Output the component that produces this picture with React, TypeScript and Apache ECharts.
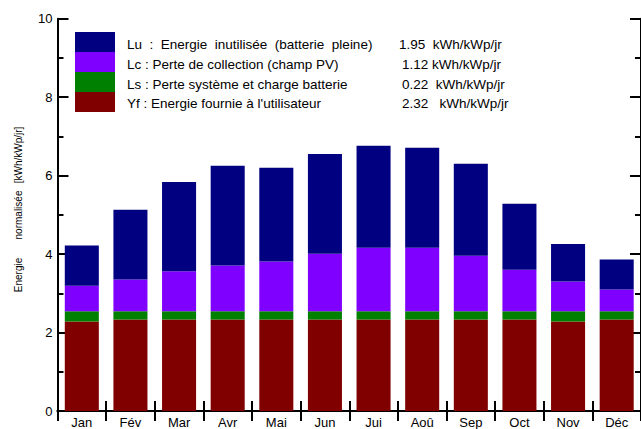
import React, { useEffect, useRef } from "react";
import * as echarts from "echarts";

const months = ["Jan", "Fév", "Mar", "Avr", "Mai", "Jun", "Jui", "Aoû", "Sep", "Oct", "Nov", "Déc"];
// stacked components (kWh/kWp/jr)
const yf = [2.28, 2.33, 2.33, 2.33, 2.33, 2.33, 2.33, 2.33, 2.33, 2.33, 2.28, 2.33];
const ls = [0.26, 0.21, 0.21, 0.21, 0.21, 0.21, 0.21, 0.21, 0.21, 0.21, 0.26, 0.21];
const lc = [0.65, 0.81, 1.02, 1.17, 1.27, 1.47, 1.62, 1.62, 1.42, 1.06, 0.76, 0.56];
const lu = [1.03, 1.78, 2.28, 2.54, 2.39, 2.54, 2.6, 2.55, 2.34, 1.68, 0.96, 0.76];

const legendNames = [
  "Lu  :  Energie  inutilisée  (batterie  pleine)",
  "Lc : Perte de collection (champ PV)",
  "Ls : Perte système et charge batterie",
  "Yf : Energie fournie à l'utilisateur",
];
const legendValues = ["1.95  kWh/kWp/jr", "1.12 kWh/kWp/jr", "0.22  kWh/kWp/jr", "2.32   kWh/kWp/jr"];
const colors = ["#000080", "#8000ff", "#008000", "#800000"];
const yAxisWords = ["Energie", "normalisée", "[kWh/kWp/jr]"];

const FONT = "'Liberation Sans', Arial, sans-serif";

export default function App() {
  const ref = useRef<HTMLDivElement>(null);
  useEffect(() => {
    if (!ref.current) return;
    const chart = echarts.init(ref.current, null, { renderer: "svg" });
    const axisLine = { show: true, lineStyle: { color: "#000", width: 2 } };
    const tickStyle = { color: "#000", width: 2 };
    const legendGraphics: any[] = [];
    const swatchY = [32, 52, 72, 92];
    const textY = [44.5, 64.5, 84.5, 103.5];
    const valueX = [399, 402, 402, 402];
    for (let i = 0; i < 4; i++) {
      legendGraphics.push({
        type: "rect",
        shape: { x: 75, y: swatchY[i], width: 40, height: 20 },
        style: { fill: colors[i] },
        z: 100,
      });
      legendGraphics.push({
        type: "text",
        x: 127,
        y: textY[i],
        style: { text: legendNames[i], fill: "#000", font: `13.5px ${FONT}`, verticalAlign: "middle", align: "left" },
        z: 100,
      });
      legendGraphics.push({
        type: "text",
        x: valueX[i],
        y: textY[i],
        style: { text: legendValues[i], fill: "#000", font: `13.5px ${FONT}`, verticalAlign: "middle", align: "left" },
        z: 100,
      });
    }
    const wordCenters = [275, 215, 155];
    yAxisWords.forEach((w, i) => {
      legendGraphics.push({
        type: "text",
        x: 18,
        y: wordCenters[i],
        rotation: Math.PI / 2,
        style: { text: w, fill: "#000", font: `10px ${FONT}`, align: "center", verticalAlign: "middle" },
      });
    });

    const seriesData = [yf, ls, lc, lu];
    const seriesColors = [colors[3], colors[2], colors[1], colors[0]];
    chart.setOption({
      animation: false,
      grid: { left: 57.5, right: -1.5, top: 18.7, bottom: 17.3, containLabel: false },
      xAxis: [
        {
          type: "category",
          data: months,
          position: "bottom",
          axisLine,
          axisTick: { show: true, inside: true, length: 10, lineStyle: tickStyle },
          axisLabel: { color: "#000", fontSize: 13, fontFamily: FONT, margin: 5, interval: 0 },
          splitLine: { show: false },
        },
        {
          type: "category",
          data: months,
          position: "top",
          axisLine,
          axisTick: { show: true, inside: true, length: 10, lineStyle: tickStyle },
          axisLabel: { show: false },
          splitLine: { show: false },
        },
      ],
      yAxis: [
        {
          type: "value",
          min: 0,
          max: 10,
          interval: 2,
          position: "left",
          axisLine,
          axisTick: { show: true, inside: true, length: 11, lineStyle: tickStyle },
          minorTick: { show: true, splitNumber: 2, length: 6, lineStyle: tickStyle },
          axisLabel: { color: "#000", fontSize: 13, fontFamily: FONT, margin: 5 },
          splitLine: { show: false },
        },
        {
          type: "value",
          min: 0,
          max: 10,
          interval: 2,
          position: "right",
          axisLine,
          axisTick: { show: true, inside: true, length: 11, lineStyle: tickStyle },
          minorTick: { show: true, splitNumber: 2, length: 6, lineStyle: tickStyle },
          axisLabel: { show: false },
          splitLine: { show: false },
        },
      ],
      series: seriesData.map((d, i) => ({
        type: "bar",
        stack: "total",
        data: d,
        barWidth: "70%",
        itemStyle: { color: seriesColors[i] },
        xAxisIndex: 0,
        yAxisIndex: 0,
      })),
      graphic: legendGraphics,
    });
    return () => chart.dispose();
  }, []);
  return <div ref={ref} style={{ position: "absolute", left: 0, top: 0, width: 641, height: 429 }} />;
}
